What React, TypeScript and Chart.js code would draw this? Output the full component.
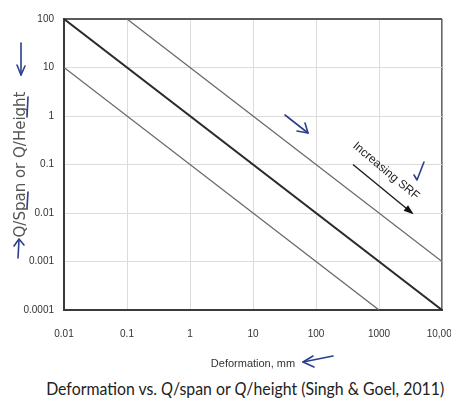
import React, { useEffect, useRef } from 'react';
import { Chart, registerables } from 'chart.js';

Chart.register(...registerables);

// ---- data ----
const lowerX = [0.01, 1000];
const lowerY = [10, 0.0001];
const middleX = [0.01, 10000];
const middleY = [100, 0.0001];
const upperX = [0.1, 10000];
const upperY = [100, 0.001];

const xTicks = [0.01, 0.1, 1, 10, 100, 1000, 10000];
const xTickLabels = ['0.01', '0.1', '1', '10', '100', '1000', '10,000'];
const yTicks = [0.0001, 0.001, 0.01, 0.1, 1, 10, 100];
const yTickLabels = ['0.0001', '0.001', '0.01', '0.1', '1', '10', '100'];

const xTitle = 'Deformation, mm';
const yTitle = 'Q/Span or Q/Height';
const srfLabel = 'Increasing SRF';

const BLUE = '#2b3f8c';

const annotations = {
  id: 'annotations',
  afterDraw(chart: any) {
    const { ctx } = chart;
    const xs = chart.scales.x;
    const ys = chart.scales.y;
    ctx.save();

    // "Increasing SRF" label + arrow
    const tx = xs.getPixelForValue(1290);
    const ty = ys.getPixelForValue(0.0735);
    ctx.translate(tx, ty);
    ctx.rotate((40 * Math.PI) / 180);
    ctx.font = '12px "Liberation Sans", Arial, sans-serif';
    ctx.fillStyle = '#222';
    ctx.textAlign = 'center';
    ctx.textBaseline = 'middle';
    ctx.fillText(srfLabel, 0, 0);
    ctx.setTransform(1, 0, 0, 1, 0, 0);

    const ax0 = xs.getPixelForValue(386);
    const ay0 = ys.getPixelForValue(0.1);
    const ax1 = xs.getPixelForValue(3340);
    const ay1 = ys.getPixelForValue(0.01);
    ctx.strokeStyle = '#222';
    ctx.lineWidth = 1.5;
    ctx.beginPath();
    ctx.moveTo(ax0, ay0);
    ctx.lineTo(ax1, ay1);
    ctx.stroke();
    const ang = Math.atan2(ay1 - ay0, ax1 - ax0);
    ctx.fillStyle = '#111';
    ctx.beginPath();
    ctx.moveTo(ax1 + 2 * Math.cos(ang), ay1 + 2 * Math.sin(ang));
    ctx.lineTo(ax1 - 8 * Math.cos(ang) + 3.5 * Math.sin(ang), ay1 - 8 * Math.sin(ang) - 3.5 * Math.cos(ang));
    ctx.lineTo(ax1 - 8 * Math.cos(ang) - 3.5 * Math.sin(ang), ay1 - 8 * Math.sin(ang) + 3.5 * Math.cos(ang));
    ctx.closePath();
    ctx.fill();

    // hand-drawn blue marks
    ctx.strokeStyle = BLUE;
    ctx.lineWidth = 1.6;
    ctx.lineCap = 'round';
    ctx.lineJoin = 'round';
    const poly = (pts: number[][]) => {
      ctx.beginPath();
      ctx.moveTo(pts[0][0], pts[0][1]);
      for (let i = 1; i < pts.length; i++) ctx.lineTo(pts[i][0], pts[i][1]);
      ctx.stroke();
    };
    // diagonal arrow
    poly([[285, 115], [308, 133]]);
    poly([[297, 131], [308, 133], [305, 123]]);
    // check mark
    poly([[414, 175], [417, 180], [424, 162]]);
    // arrow next to x title
    poly([[303, 362], [333, 356]]);
    poly([[313, 356], [303, 362], [314, 367]]);
    // y-axis down arrow
    poly([[21, 43], [21, 75]]);
    poly([[17, 65], [21, 75], [25, 66]]);
    // underlines
    poly([[28, 97], [27, 117]]);
    poly([[28, 192], [27, 208]]);
    // y-axis up arrow
    poly([[18, 258], [19, 240]]);
    poly([[14, 246], [19, 239], [24, 245]]);

    ctx.restore();
  },
};

export default function App() {
  const ref = useRef<HTMLCanvasElement>(null);

  useEffect(() => {
    const tickFont = { family: '"Liberation Sans", Arial, sans-serif', size: 10 };
    const chart = new Chart(ref.current as HTMLCanvasElement, {
      type: 'line',
      data: {
        datasets: [
          {
            data: lowerX.map((x, i) => ({ x, y: lowerY[i] })),
            borderColor: '#6a6a6a',
            borderWidth: 1.3,
            pointRadius: 0,
            fill: false,
          },
          {
            data: middleX.map((x, i) => ({ x, y: middleY[i] })),
            borderColor: '#2a2a2a',
            borderWidth: 2,
            pointRadius: 0,
            fill: false,
          },
          {
            data: upperX.map((x, i) => ({ x, y: upperY[i] })),
            borderColor: '#6a6a6a',
            borderWidth: 1.3,
            pointRadius: 0,
            fill: false,
          },
        ],
      },
      options: {
        responsive: false,
        animation: false,
        layout: { padding: { top: 19, right: 9, left: 0, bottom: 0 } },
        plugins: { legend: { display: false }, tooltip: { enabled: false } },
        scales: {
          x: {
            type: 'logarithmic',
            min: 0.01,
            max: 10000,
            afterBuildTicks: (s: any) => {
              s.ticks = xTicks.map((v) => ({ value: v }));
            },
            afterFit: (s: any) => {
              s.height = 65;
              s.paddingLeft = 0;
              s.paddingRight = 0;
            },
            ticks: {
              autoSkip: false,
              maxRotation: 0,
              padding: 18,
              color: '#333',
              font: tickFont,
              callback: (_v: any, i: number) => xTickLabels[i],
            },
            grid: {
              drawTicks: false,
              color: (c: any) => (c.tick && c.tick.value === 10000 ? '#666' : '#dcdcdc'),
              lineWidth: (c: any) => (c.tick && c.tick.value === 10000 ? 1.6 : 1),
            },
            border: { display: true, color: '#3a3a3a', width: 2 },
            title: {
              display: true,
              text: xTitle,
              color: '#333',
              font: { family: '"Liberation Sans", Arial, sans-serif', size: 11 },
              padding: { top: 0, bottom: 4 },
            },
          },
          y: {
            type: 'logarithmic',
            min: 0.0001,
            max: 100,
            afterBuildTicks: (s: any) => {
              s.ticks = yTicks.map((v) => ({ value: v }));
            },
            afterFit: (s: any) => {
              s.width = 64;
              s.paddingTop = 0;
              s.paddingBottom = 0;
            },
            ticks: {
              autoSkip: false,
              padding: 10,
              color: '#333',
              font: tickFont,
              callback: (_v: any, i: number) => yTickLabels[i],
            },
            grid: {
              drawTicks: false,
              color: (c: any) => (c.tick && c.tick.value === 100 ? '#5a5a5a' : '#dcdcdc'),
              lineWidth: (c: any) => (c.tick && c.tick.value === 100 ? 2 : 1),
            },
            border: { display: true, color: '#3a3a3a', width: 2 },
            title: {
              display: true,
              text: yTitle,
              color: '#555',
              font: { family: '"DejaVu Sans", sans-serif', size: 15 },
              padding: { top: 12, bottom: 0 },
            },
          },
        },
      },
      plugins: [annotations],
    });
    return () => chart.destroy();
  }, []);

  return (
    <div style={{ position: 'absolute', left: 0, top: 0, width: 451, height: 404, background: '#fff', overflow: 'hidden' }}>
      <canvas ref={ref} width={451} height={375} style={{ display: 'block' }} />
      <div
        style={{
          position: 'absolute',
          left: 0,
          top: 377,
          width: 451,
          textAlign: 'center',
          fontFamily: 'Lato, "Noto Sans", sans-serif',
          fontSize: 18,
          lineHeight: '22px',
          color: '#222',
          whiteSpace: 'nowrap',
        }}
      >
        <span style={{ display: 'inline-block', transform: 'translateX(19px) scaleX(0.88)', transformOrigin: 'center' }}>
          Deformation vs. <i>Q</i>/span or <i>Q</i>/height (Singh &amp; Goel, 2011)
        </span>
      </div>
    </div>
  );
}
